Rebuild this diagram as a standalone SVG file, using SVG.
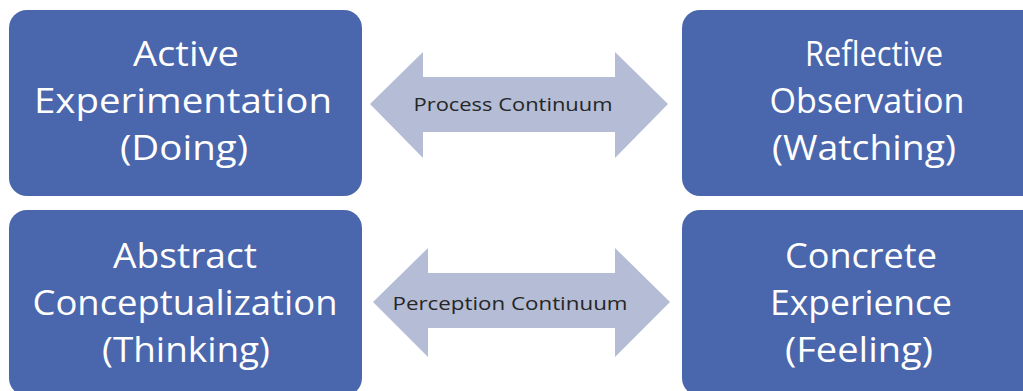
<svg xmlns="http://www.w3.org/2000/svg" width="1023" height="391" viewBox="0 0 1023 391">
  <style>
    .box { fill: #4a66ac; }
    .arrow { fill: #b4bcd6; }
    .label { font-family: "Open Sans", "Liberation Sans", sans-serif; font-size: 34px; fill: #ffffff; text-anchor: middle; font-feature-settings: "liga" 0, "dlig" 0, "clig" 0; }
    .tag { font-family: "Open Sans", "Liberation Sans", sans-serif; font-size: 19px; fill: #262626; text-anchor: middle; }
  </style>
  <rect width="1023" height="391" fill="#ffffff"/>

  <!-- double-headed continuum arrows -->
  <g id="connectors">
    <g id="process-continuum">
      <polygon class="arrow" points="370,104 423,52 423,77 615,77 615,52 668,104 615,158 615,132 423,132 423,158"/>
      <text class="tag" x="513" y="111" textLength="199" lengthAdjust="spacingAndGlyphs">Process Continuum</text>
    </g>
    <g id="perception-continuum">
      <polygon class="arrow" points="373,302 428,248 428,273 615,273 615,248 670,302 615,357 615,328 428,328 428,357"/>
      <text class="tag" x="510" y="310" textLength="235" lengthAdjust="spacingAndGlyphs">Perception Continuum</text>
    </g>
  </g>

  <g id="active-experimentation">
    <rect class="box" x="9" y="10" width="353" height="186" rx="18"/>
    <text class="label" x="186" y="66" textLength="106" lengthAdjust="spacingAndGlyphs">Active</text>
    <text class="label" x="183" y="113" textLength="298" lengthAdjust="spacingAndGlyphs">Experimentation</text>
    <text class="label" x="184" y="160" textLength="128" lengthAdjust="spacingAndGlyphs">(Doing)</text>
  </g>

  <g id="reflective-observation">
    <rect class="box" x="682" y="10" width="372" height="186" rx="18"/>
    <text class="label" x="874" y="66" textLength="138" lengthAdjust="spacingAndGlyphs">Reflective</text>
    <text class="label" x="867" y="113" textLength="195" lengthAdjust="spacingAndGlyphs">Observation</text>
    <text class="label" x="864" y="160" textLength="184" lengthAdjust="spacingAndGlyphs">(Watching)</text>
  </g>

  <g id="abstract-conceptualization">
    <rect class="box" x="9" y="210" width="353" height="186" rx="18"/>
    <text class="label" x="185" y="268" textLength="144" lengthAdjust="spacingAndGlyphs">Abstract</text>
    <text class="label" x="185" y="315" textLength="305" lengthAdjust="spacingAndGlyphs">Conceptualization</text>
    <text class="label" x="186" y="362" textLength="168" lengthAdjust="spacingAndGlyphs">(Thinking)</text>
  </g>

  <g id="concrete-experience">
    <rect class="box" x="682" y="210" width="372" height="186" rx="18"/>
    <text class="label" x="861" y="268" textLength="152" lengthAdjust="spacingAndGlyphs">Concrete</text>
    <text class="label" x="861" y="315" textLength="182" lengthAdjust="spacingAndGlyphs">Experience</text>
    <text class="label" x="859" y="362" textLength="148" lengthAdjust="spacingAndGlyphs">(Feeling)</text>
  </g>
</svg>
